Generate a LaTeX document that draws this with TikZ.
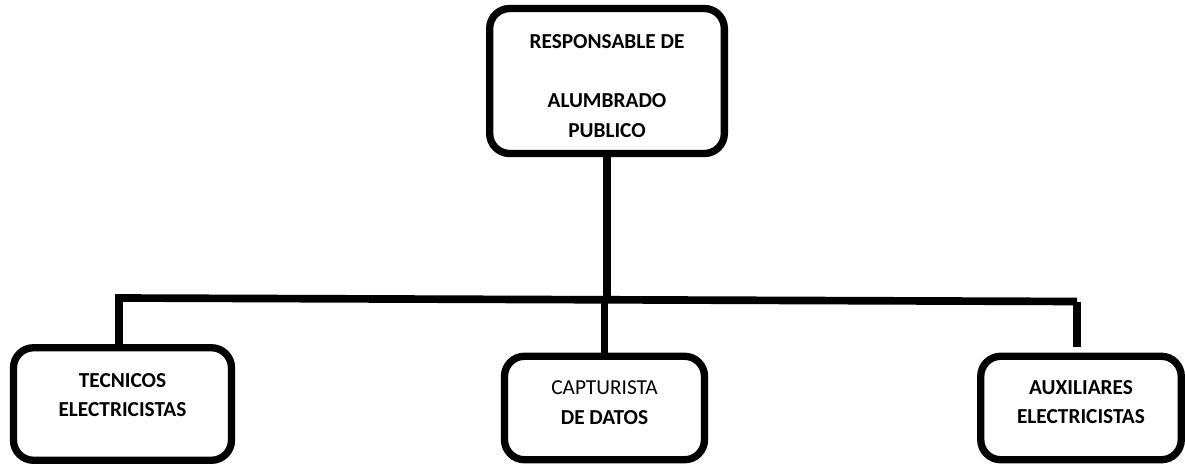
\documentclass[tikz,border=0pt]{standalone}
\usepackage{fontspec}
\setmainfont{Carlito}
\tikzset{
  caja/.style={draw, line width=5.5pt, rounded corners=15pt, inner sep=0pt},
  texto/.style={align=center, font=\fontsize{16}{22.3}\selectfont\bfseries},
  linea/.style={line width=5.75pt}
}
\begin{document}
\begin{tikzpicture}[x=0.75pt,y=-0.75pt]
\useasboundingbox (0,0) rectangle (1185,464);
% cajas
\node[caja, minimum width=176pt, minimum height=108.75pt] (resp) at (607,81) {};
\node[caja, minimum width=163.5pt, minimum height=84.4pt] (tec) at (122.5,404) {};
\node[caja, minimum width=150pt, minimum height=77.6pt] (cap) at (604.5,408) {};
\node[caja, minimum width=150.4pt, minimum height=77.6pt] (aux) at (1081,408) {};
% textos
\node[texto] (tresp) at (607,86) {RESPONSABLE DE\\[22.3pt]ALUMBRADO\\PUBLICO};
\node[texto] (ttec) at (122.5,395) {TECNICOS\\ELECTRICISTAS};
\node[texto, font=\fontsize{16}{22.3}\selectfont] (tcap) at (604.5,402.5) {CAPTURISTA\\\textbf{DE DATOS}};
\node[texto] (taux) at (1081,402) {AUXILIARES\\ELECTRICISTAS};
% lineas
\coordinate (barL) at (119,298);
\coordinate (barR) at (1077,301.5);
\coordinate (finR) at (1077,347);
\draw[linea] (resp.south) -- (resp.south |- barL);
\draw[linea] (barL |- tec.north) -- (barL) -- (barR);
\draw[linea] (cap.north) -- (cap.north |- barL);
\draw[linea] (barR) -- (finR);
\end{tikzpicture}
\end{document}
